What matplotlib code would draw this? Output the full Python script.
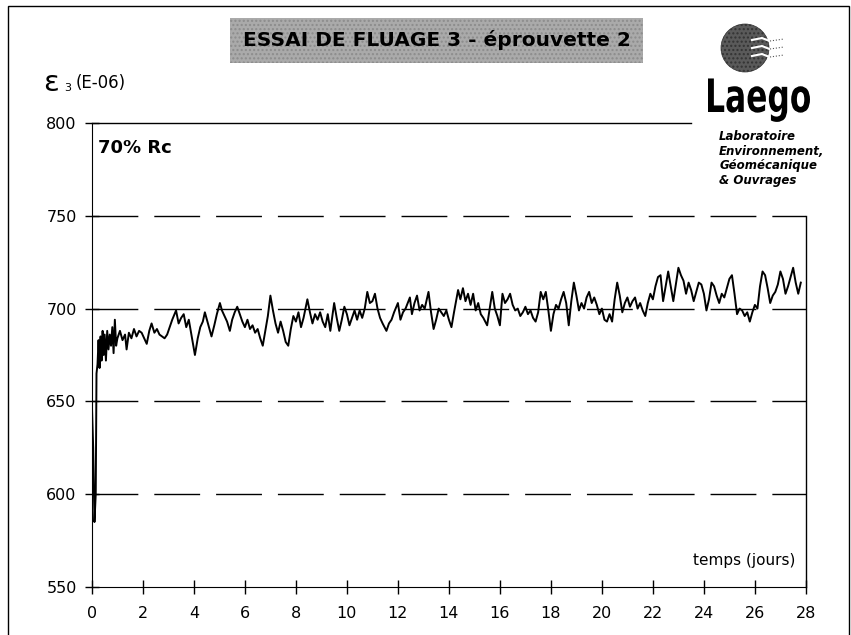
import matplotlib
matplotlib.use("Agg")
import matplotlib.pyplot as plt
from matplotlib.patches import Rectangle, Ellipse, PathPatch
from matplotlib.textpath import TextPath
from matplotlib.font_manager import FontProperties
from matplotlib.transforms import Affine2D
from matplotlib.lines import Line2D

# elapsed time (days) and lateral strain eps3 (E-06)
days = [0.00, 0.05, 0.10, 0.15, 0.18, 0.22, 0.26, 0.30, 0.34, 0.38, 0.42, 0.46,
        0.50, 0.55, 0.60, 0.65, 0.70, 0.75, 0.80, 0.85, 0.90, 0.95, 1.00, 1.10,
        1.20, 1.30, 1.36, 1.45, 1.55, 1.65, 1.75, 1.85, 1.95, 2.05, 2.15, 2.25,
        2.34, 2.45, 2.55, 2.65, 2.75, 2.85, 2.95, 3.05, 3.15, 3.30, 3.40, 3.50,
        3.60, 3.70, 3.80, 3.90, 4.04, 4.15, 4.25, 4.35, 4.43, 4.55, 4.69, 4.80,
        4.90, 5.02, 5.10, 5.20, 5.30, 5.41, 5.50, 5.60, 5.70, 5.80, 5.90, 6.00,
        6.10, 6.20, 6.30, 6.40, 6.50, 6.60, 6.70, 6.80, 6.90, 7.00, 7.10, 7.20,
        7.30, 7.40, 7.50, 7.60, 7.70, 7.80, 7.90, 8.00, 8.10, 8.20, 8.30, 8.45,
        8.55, 8.65, 8.75, 8.85, 8.95, 9.05, 9.15, 9.25, 9.35, 9.50, 9.60, 9.70,
        9.80, 9.90, 10.0, 10.1, 10.2, 10.3, 10.4, 10.5, 10.6, 10.7, 10.8, 10.9,
        11.0, 11.1, 11.2, 11.3, 11.4, 11.55, 11.65, 11.75, 11.85, 12.0, 12.1,
        12.2, 12.3, 12.47, 12.55, 12.65, 12.75, 12.85, 12.95, 13.05, 13.2, 13.3,
        13.4, 13.5, 13.6, 13.7, 13.8, 13.9, 14.0, 14.1, 14.2, 14.36, 14.45,
        14.55, 14.65, 14.75, 14.85, 14.95, 15.05, 15.15, 15.25, 15.35, 15.5,
        15.6, 15.7, 15.8, 15.9, 16.0, 16.1, 16.2, 16.3, 16.4, 16.5, 16.6, 16.7,
        16.8, 16.9, 17.0, 17.1, 17.2, 17.3, 17.4, 17.5, 17.6, 17.7, 17.8, 17.9,
        18.0, 18.1, 18.2, 18.3, 18.4, 18.5, 18.6, 18.7, 18.8, 18.9, 19.0, 19.1,
        19.2, 19.3, 19.4, 19.5, 19.6, 19.7, 19.8, 19.9, 20.0, 20.1, 20.2, 20.3,
        20.4, 20.5, 20.6, 20.7, 20.8, 20.9, 21.0, 21.1, 21.2, 21.3, 21.4, 21.5,
        21.6, 21.7, 21.8, 21.9, 22.0, 22.1, 22.2, 22.3, 22.4, 22.5, 22.6, 22.7,
        22.8, 22.9, 23.0, 23.1, 23.2, 23.3, 23.4, 23.5, 23.6, 23.7, 23.8, 23.9,
        24.0, 24.1, 24.2, 24.3, 24.4, 24.5, 24.6, 24.7, 24.8, 24.9, 25.0, 25.1,
        25.2, 25.3, 25.4, 25.5, 25.6, 25.7, 25.8, 25.9, 26.0, 26.1, 26.2, 26.3,
        26.4, 26.5, 26.6, 26.7, 26.8, 26.9, 27.0, 27.1, 27.2, 27.3, 27.4, 27.5,
        27.6, 27.7, 27.8]
eps3 = [648, 625, 585, 600, 665, 670, 683, 668, 685, 672, 688, 675,
        686, 672, 688, 678, 686, 680, 690, 676, 694, 680, 684, 688,
        683, 686, 678, 687, 684, 689, 685, 688, 687, 684, 681, 688,
        692, 687, 689, 686, 685, 684, 686, 690, 694, 699, 692, 695,
        697, 690, 694, 686, 675, 684, 690, 693, 698, 692, 685, 691,
        697, 703, 699, 696, 693, 688, 694, 698, 701, 697, 693, 690,
        694, 689, 691, 687, 689, 684, 680, 688, 696, 707, 699, 692,
        687, 693, 688, 682, 680, 689, 696, 693, 698, 690, 695, 705,
        698, 692, 697, 694, 698, 693, 690, 697, 688, 703, 695, 688,
        694, 701, 697, 691, 695, 699, 694, 699, 695, 700, 709, 703,
        704, 708, 700, 695, 692, 688, 692, 694, 698, 703, 694,
        698, 700, 706, 697, 703, 707, 699, 702, 700, 709, 698,
        689, 694, 700, 698, 696, 699, 694, 690, 698, 710, 705,
        711, 704, 708, 702, 708, 699, 703, 697, 695, 691,
        700, 709, 700, 696, 691, 708, 703, 705, 708, 702, 699, 700,
        696, 698, 701, 697, 699, 695, 693, 698, 709, 705, 709, 699,
        688, 697, 702, 700, 705, 709, 703, 691, 704, 714, 707, 699,
        703, 700, 706, 709, 703, 706, 702, 697, 700, 694, 693, 697,
        693, 705, 714, 707, 698, 703, 706, 701, 704, 706, 700, 703,
        699, 696, 703, 708, 705, 712, 717, 718, 704, 712, 720, 712,
        704, 713, 722, 718, 715, 708, 714, 710, 704, 709, 714, 713,
        708, 699, 705, 714, 712, 707, 703, 708, 706, 711, 716, 718,
        708, 697, 700, 699, 696, 698, 693, 698, 702, 700, 712, 720,
        718, 711, 703, 707, 709, 713, 720, 716, 708, 712, 717, 722,
        714, 708, 714]

y_ticks = [550, 600, 650, 700, 750, 800]
x_ticks = list(range(0, 29, 2))
grid_levels = [600, 650, 700, 750]

W, H = 851, 635
fig = plt.figure(figsize=(W / 100, H / 100), dpi=100)
ax = fig.add_axes([0.108, 0.0756, 0.839, 0.7307])

ax.plot(days, eps3, color="black", lw=1.4)

for lev in grid_levels:
    ax.axhline(lev, color="black", lw=1.0, linestyle=(0, (33, 11.5)), zorder=0)

ax.set_xlim(0, 28)
ax.set_ylim(550, 800)
ax.set_xticks(x_ticks)
ax.set_yticks(y_ticks)
ax.tick_params(direction="inout", length=10, width=1, labelsize=11.5)
ax.tick_params(axis="x", pad=9)
ax.tick_params(axis="y", pad=6)

ax.spines["top"].set_visible(False)
ax.spines["right"].set_visible(False)
# partial top line (stops before the logo) and partial right axis
ax.plot([0, 23.5], [800, 800], color="black", lw=1.0, clip_on=False)
ax.plot([28, 28], [550, 750], color="black", lw=1.0, clip_on=False)

ax.text(0.0085, 0.965, "70% Rc", transform=ax.transAxes, fontsize=13,
        fontweight="bold", va="top", ha="left")
ax.text(0.985, 0.058, "temps (jours)", transform=ax.transAxes, fontsize=11,
        ha="right", va="center")

# title box
fig.add_artist(Rectangle((0.270, 0.901), 0.486, 0.071, transform=fig.transFigure,
                         facecolor="#aaaaaa", edgecolor="#8c8c8c", hatch="....", lw=0))
fig.text(0.513, 0.937, "ESSAI DE FLUAGE 3 - éprouvette 2", fontsize=14.5,
         fontweight="bold", ha="center", va="center")

# y axis label
fig.text(0.051, 0.869, "ε", fontsize=21, ha="left", va="center")
fig.text(0.075, 0.861, "3", fontsize=8, ha="left", va="center")
fig.text(0.089, 0.869, "(E-06)", fontsize=12, ha="left", va="center")

# logo: globe with white streaks
fig.add_artist(Ellipse((745 / W, 1 - 48 / H), 48 / W, 48 / H, transform=fig.transFigure,
                       facecolor="#5a5a5a", edgecolor="#333333", hatch="....", lw=0.5))
for dy in (-8, 0, 8):
    fig.add_artist(Line2D([752 / W, 762 / W, 772 / W, 782 / W],
                          [1 - (48 + dy) / H, 1 - (46 + dy) / H, 1 - (50 + dy) / H, 1 - (47 + dy) / H],
                          transform=fig.transFigure, color="white", lw=1.5))
    fig.add_artist(Line2D([770 / W, 784 / W], [1 - (49 + dy) / H, 1 - (47 + dy) / H],
                          transform=fig.transFigure, color="#555555", lw=0.8, ls=":"))
logo = TextPath((0, 0), "Laego", size=50, prop=FontProperties(family="DejaVu Sans", weight="heavy"))
bb = logo.get_extents()
sx = 102 / bb.width
tr = Affine2D().translate(-bb.x0, 0).scale(sx, 0.92).translate(708, H - 112)
fig.add_artist(PathPatch(tr.transform_path(logo), facecolor="black", edgecolor="none",
                         transform=None))
fig.text(0.845, 0.795, "Laboratoire\nEnvironnement,\nGéomécanique\n& Ouvrages",
         fontsize=8.5, fontweight="bold", fontstyle="italic", ha="left", va="top",
         linespacing=1.15)

# outer frame
fig.add_artist(Rectangle((8 / W, -0.01), 841 / W, 1 - 6 / H + 0.01,
                         transform=fig.transFigure, fill=False, edgecolor="black", lw=1))

fig.savefig("out.png", dpi=100)
